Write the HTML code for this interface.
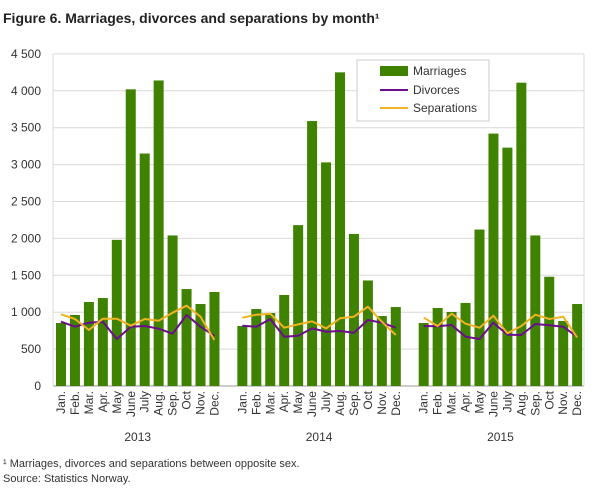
<!DOCTYPE html>
<html><head><meta charset="utf-8"><style>
body{margin:0;background:#fff;font-family:"Liberation Sans",sans-serif;}
svg text{font-family:"Liberation Sans",sans-serif;}
</style></head><body>
<svg id="chart" width="609" height="489" viewBox="0 0 609 489">
<text x="3" y="23" font-size="14" font-weight="bold" fill="#222">Figure 6. Marriages, divorces and separations by month¹</text>
<g id="grid"></g><g id="bars"></g><g id="lines"></g><g id="xlabels"></g>
<g>
<rect x="357" y="60" width="132" height="61" fill="#fff" stroke="#ccc"/>
<rect x="380" y="66" width="28" height="10" fill="#3f8200"/>
<text x="413" y="75" font-size="12" fill="#333">Marriages</text>
<line x1="380" y1="90" x2="408" y2="90" stroke="#6b0d8c" stroke-width="2"/>
<text x="413" y="94" font-size="12" fill="#333">Divorces</text>
<line x1="380" y1="108" x2="408" y2="108" stroke="#f0b323" stroke-width="2"/>
<text x="413" y="112" font-size="12" fill="#333">Separations</text>
</g>
<text x="3" y="467" font-size="11" fill="#333">¹ Marriages, divorces and separations between opposite sex.</text>
<text x="3" y="482" font-size="11" fill="#333">Source: Statistics Norway.</text>
</svg>
<script>
const years=["2013","2014","2015"];
const months=["Jan.","Feb.","Mar.","Apr.","May","June","July","Aug.","Sep.","Oct","Nov.","Dec."];
const yTicks=[0,500,1000,1500,2000,2500,3000,3500,4000,4500];
const yTickLabels=["0","500","1 000","1 500","2 000","2 500","3 000","3 500","4 000","4 500"];
const marriages=[854,962,1138,1192,1980,4020,3150,4140,2040,1314,1111,1274,
 813,1043,989,1233,2180,3590,3030,4250,2060,1430,948,1070,
 854,1057,1003,1125,2120,3420,3230,4110,2040,1480,881,1111];
const divorces=[871,804,858,871,637,804,813,777,709,962,804,680,
 817,804,908,668,681,781,736,745,722,894,858,790,
 813,810,826,668,637,858,695,691,840,822,804,668];
const separations=[971,908,759,912,912,817,908,885,993,1088,939,623,
 926,966,980,790,835,876,781,917,939,1075,871,691,
 926,813,980,844,790,953,714,813,966,908,939,659];
const NS="http://www.w3.org/2000/svg";
const y0=386,pxPer=36.9/500,left=53,right=584;
const yS=v=>y0-v*pxPer;
const xS=i=>61+(i+Math.floor(i/12))*13.95;
function mk(t,a,p){const e=document.createElementNS(NS,t);for(const k in a)e.setAttribute(k,a[k]);p.appendChild(e);return e;}
const grid=document.getElementById('grid');
yTicks.forEach((t,i)=>{
 const l=mk('line',{x1:left,x2:right,y1:yS(t),y2:yS(t),stroke:i==0?'#999':'#d9d9d9','stroke-width':1},grid);
 
 
 const tx=mk('text',{x:41,y:yS(t)+4,'font-size':12,fill:'#333','text-anchor':'end'},grid);
 tx.textContent=yTickLabels[i];
 
 
});
mk('line',{x1:left,x2:left,y1:yS(4500),y2:y0,stroke:'#d9d9d9'},grid);
mk('line',{x1:right,x2:right,y1:yS(4500),y2:y0,stroke:'#d9d9d9'},grid);
const bars=document.getElementById('bars');
marriages.forEach((v,i)=>{
 const r=mk('rect',{x:xS(i)-5,y:yS(v),width:10,height:y0-yS(v),fill:'#3f8200'},bars);
 
 
});
const lines=document.getElementById('lines');
[[divorces,'#6b0d8c','divorces'],[separations,'#f0b323','separations']].forEach(([arr,c,n])=>{
 for(let g=0;g<3;g++){
  const pts=arr.slice(g*12,g*12+12).map((v,j)=>xS(g*12+j).toFixed(1)+','+yS(v).toFixed(1)).join(' ');
  const p=mk('polyline',{points:pts,fill:'none',stroke:c,'stroke-width':2,'stroke-linejoin':'round'},lines);
  
  
 }
});
const xl=document.getElementById('xlabels');
for(let i=0;i<36;i++){
 const x=xS(i)+4;
 const t=mk('text',{x:x,y:391,'font-size':12,fill:'#333','text-anchor':'end',transform:`rotate(-90 ${x} 391)`},xl);
 t.textContent=months[i%12];
 
 
}
years.forEach((y,g)=>{
 const t=mk('text',{x:(xS(g*12)+xS(g*12+11))/2,y:441,'font-size':12,fill:'#333','text-anchor':'middle'},xl);
 t.textContent=y;
 
 
});
</script>
</body></html>
